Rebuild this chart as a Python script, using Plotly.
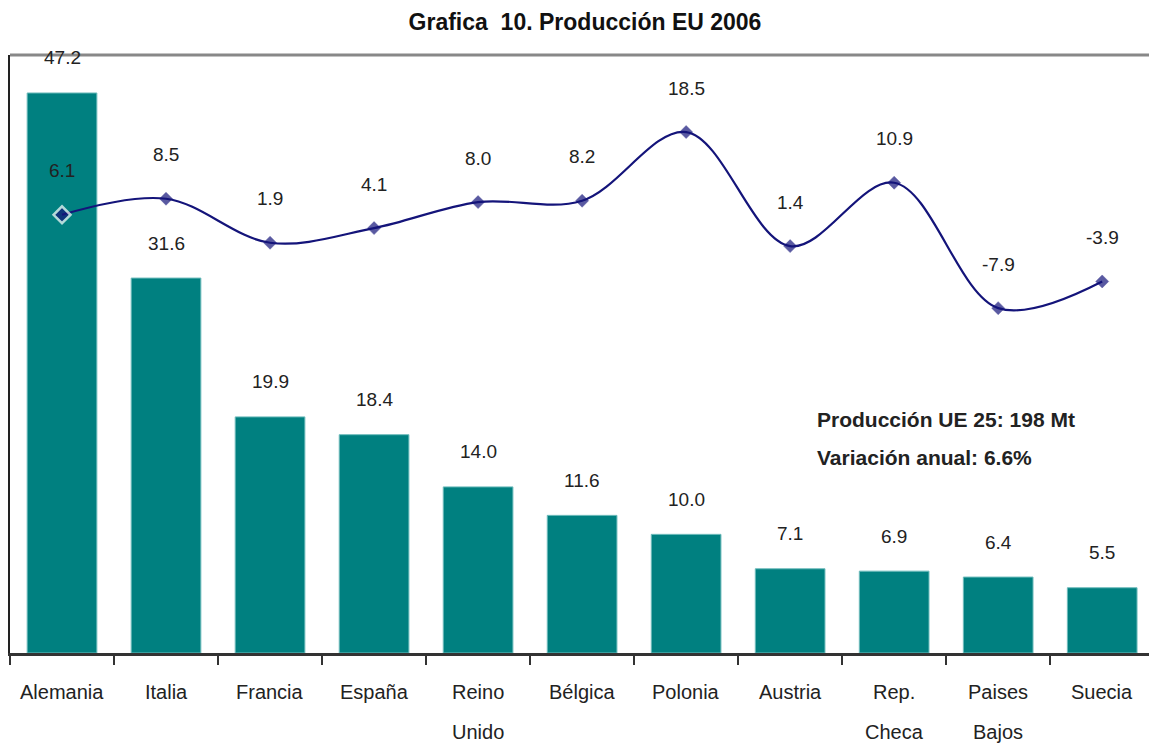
import plotly.graph_objects as go

categories = ["Alemania", "Italia", "Francia", "España", "Reino Unido", "Bélgica",
              "Polonia", "Austria", "Rep. Checa", "Paises Bajos", "Suecia"]
label_line1 = ["Alemania", "Italia", "Francia", "España", "Reino", "Bélgica",
               "Polonia", "Austria", "Rep.", "Paises", "Suecia"]
label_line2 = ["", "", "", "", "Unido", "", "", "", "Checa", "Bajos", ""]
production = [47.2, 31.6, 19.9, 18.4, 14.0, 11.6, 10.0, 7.1, 6.9, 6.4, 5.5]
variation = [6.1, 8.5, 1.9, 4.1, 8.0, 8.2, 18.5, 1.4, 10.9, -7.9, -3.9]

FONT = "Liberation Sans, Arial, sans-serif"
TEAL = "#008080"
NAVY = "#14147a"
TXT = "#222"

W, H = 1149, 744
L, T, B = 10, 55, 91
pw, ph = W - L, H - T - B


def py(ypix):
    return (H - B - ypix) / ph


def px(xpix):
    return (xpix - L) / pw


fig = go.Figure()
fig.add_trace(go.Bar(x=categories, y=production,
                     marker=dict(color=TEAL, line=dict(color="#6fbcbc", width=1)),
                     hoverinfo="skip", showlegend=False))
n = len(categories)
fig.add_trace(go.Scatter(
    x=categories, y=variation, yaxis="y2", mode="lines+markers",
    line=dict(color=NAVY, width=2.2, shape="spline", smoothing=1.0),
    marker=dict(symbol="diamond", color=NAVY,
                size=[13] + [10] * (n - 1),
                line=dict(color=["white"] + [NAVY] * (n - 1),
                          width=[2.5] + [0.5] * (n - 1))),
    showlegend=False, hoverinfo="skip"))

annotations = []
for c, v in zip(categories, production):
    annotations.append(dict(x=c, y=v, xref="x", yref="y", text=f"{v:.1f}", showarrow=False,
                            yshift=35, font=dict(family=FONT, size=19, color=TXT)))
for c, v in zip(categories, variation):
    annotations.append(dict(x=c, y=v, xref="x", yref="y2", text=f"{v:.1f}", showarrow=False,
                            yshift=44, font=dict(family=FONT, size=19, color=TXT)))
for c, l1, l2 in zip(categories, label_line1, label_line2):
    annotations.append(dict(x=c, y=py(692), xref="x", yref="paper", yanchor="middle", text=l1,
                            showarrow=False, font=dict(family=FONT, size=20, color=TXT)))
    if l2:
        annotations.append(dict(x=c, y=py(732), xref="x", yref="paper", yanchor="middle", text=l2,
                                showarrow=False, font=dict(family=FONT, size=20, color=TXT)))

annotations.append(dict(x=px(815), y=py(419), xref="paper", yref="paper",
                        text="<b>Producción UE 25: 198 Mt</b>",
                        showarrow=False, xanchor="left", yanchor="middle",
                        font=dict(family=FONT, size=21, color=TXT)))
annotations.append(dict(x=px(815), y=py(457), xref="paper", yref="paper",
                        text="<b>Variación anual: 6.6%</b>",
                        showarrow=False, xanchor="left", yanchor="middle",
                        font=dict(family=FONT, size=21, color=TXT)))

fig.update_layout(
    width=W, height=H,
    margin=dict(l=L, r=0, t=T, b=B),
    paper_bgcolor="white", plot_bgcolor="white",
    bargap=0.33,
    title=dict(text="<b>Grafica  10. Producción EU 2006</b>", x=585 / W, xanchor="center",
               y=1 - 22 / H, yanchor="middle",
               font=dict(family=FONT, size=23, color="#111")),
    xaxis=dict(type="category", range=[-0.5, 10.45], showticklabels=False,
               showline=True, linecolor="#333", linewidth=3,
               ticks="outside", tickson="boundaries", ticklen=9, tickwidth=2, tickcolor="#333",
               showgrid=False, zeroline=False),
    yaxis=dict(range=[0, 50.4], showticklabels=False, showgrid=False, zeroline=False,
               showline=True, linecolor="#222", linewidth=2, ticks=""),
    yaxis2=dict(range=[-59.6, 30.05], overlaying="y", showticklabels=False, showgrid=False,
                zeroline=False, showline=False),
    annotations=annotations,
    shapes=[dict(type="line", xref="paper", yref="paper", x0=0, x1=1, y0=1, y1=1,
                 line=dict(color="#888", width=3))],
)

fig.write_html("out.html", config={"displayModeBar": False},
               post_script="document.body.style.margin='0px';")
